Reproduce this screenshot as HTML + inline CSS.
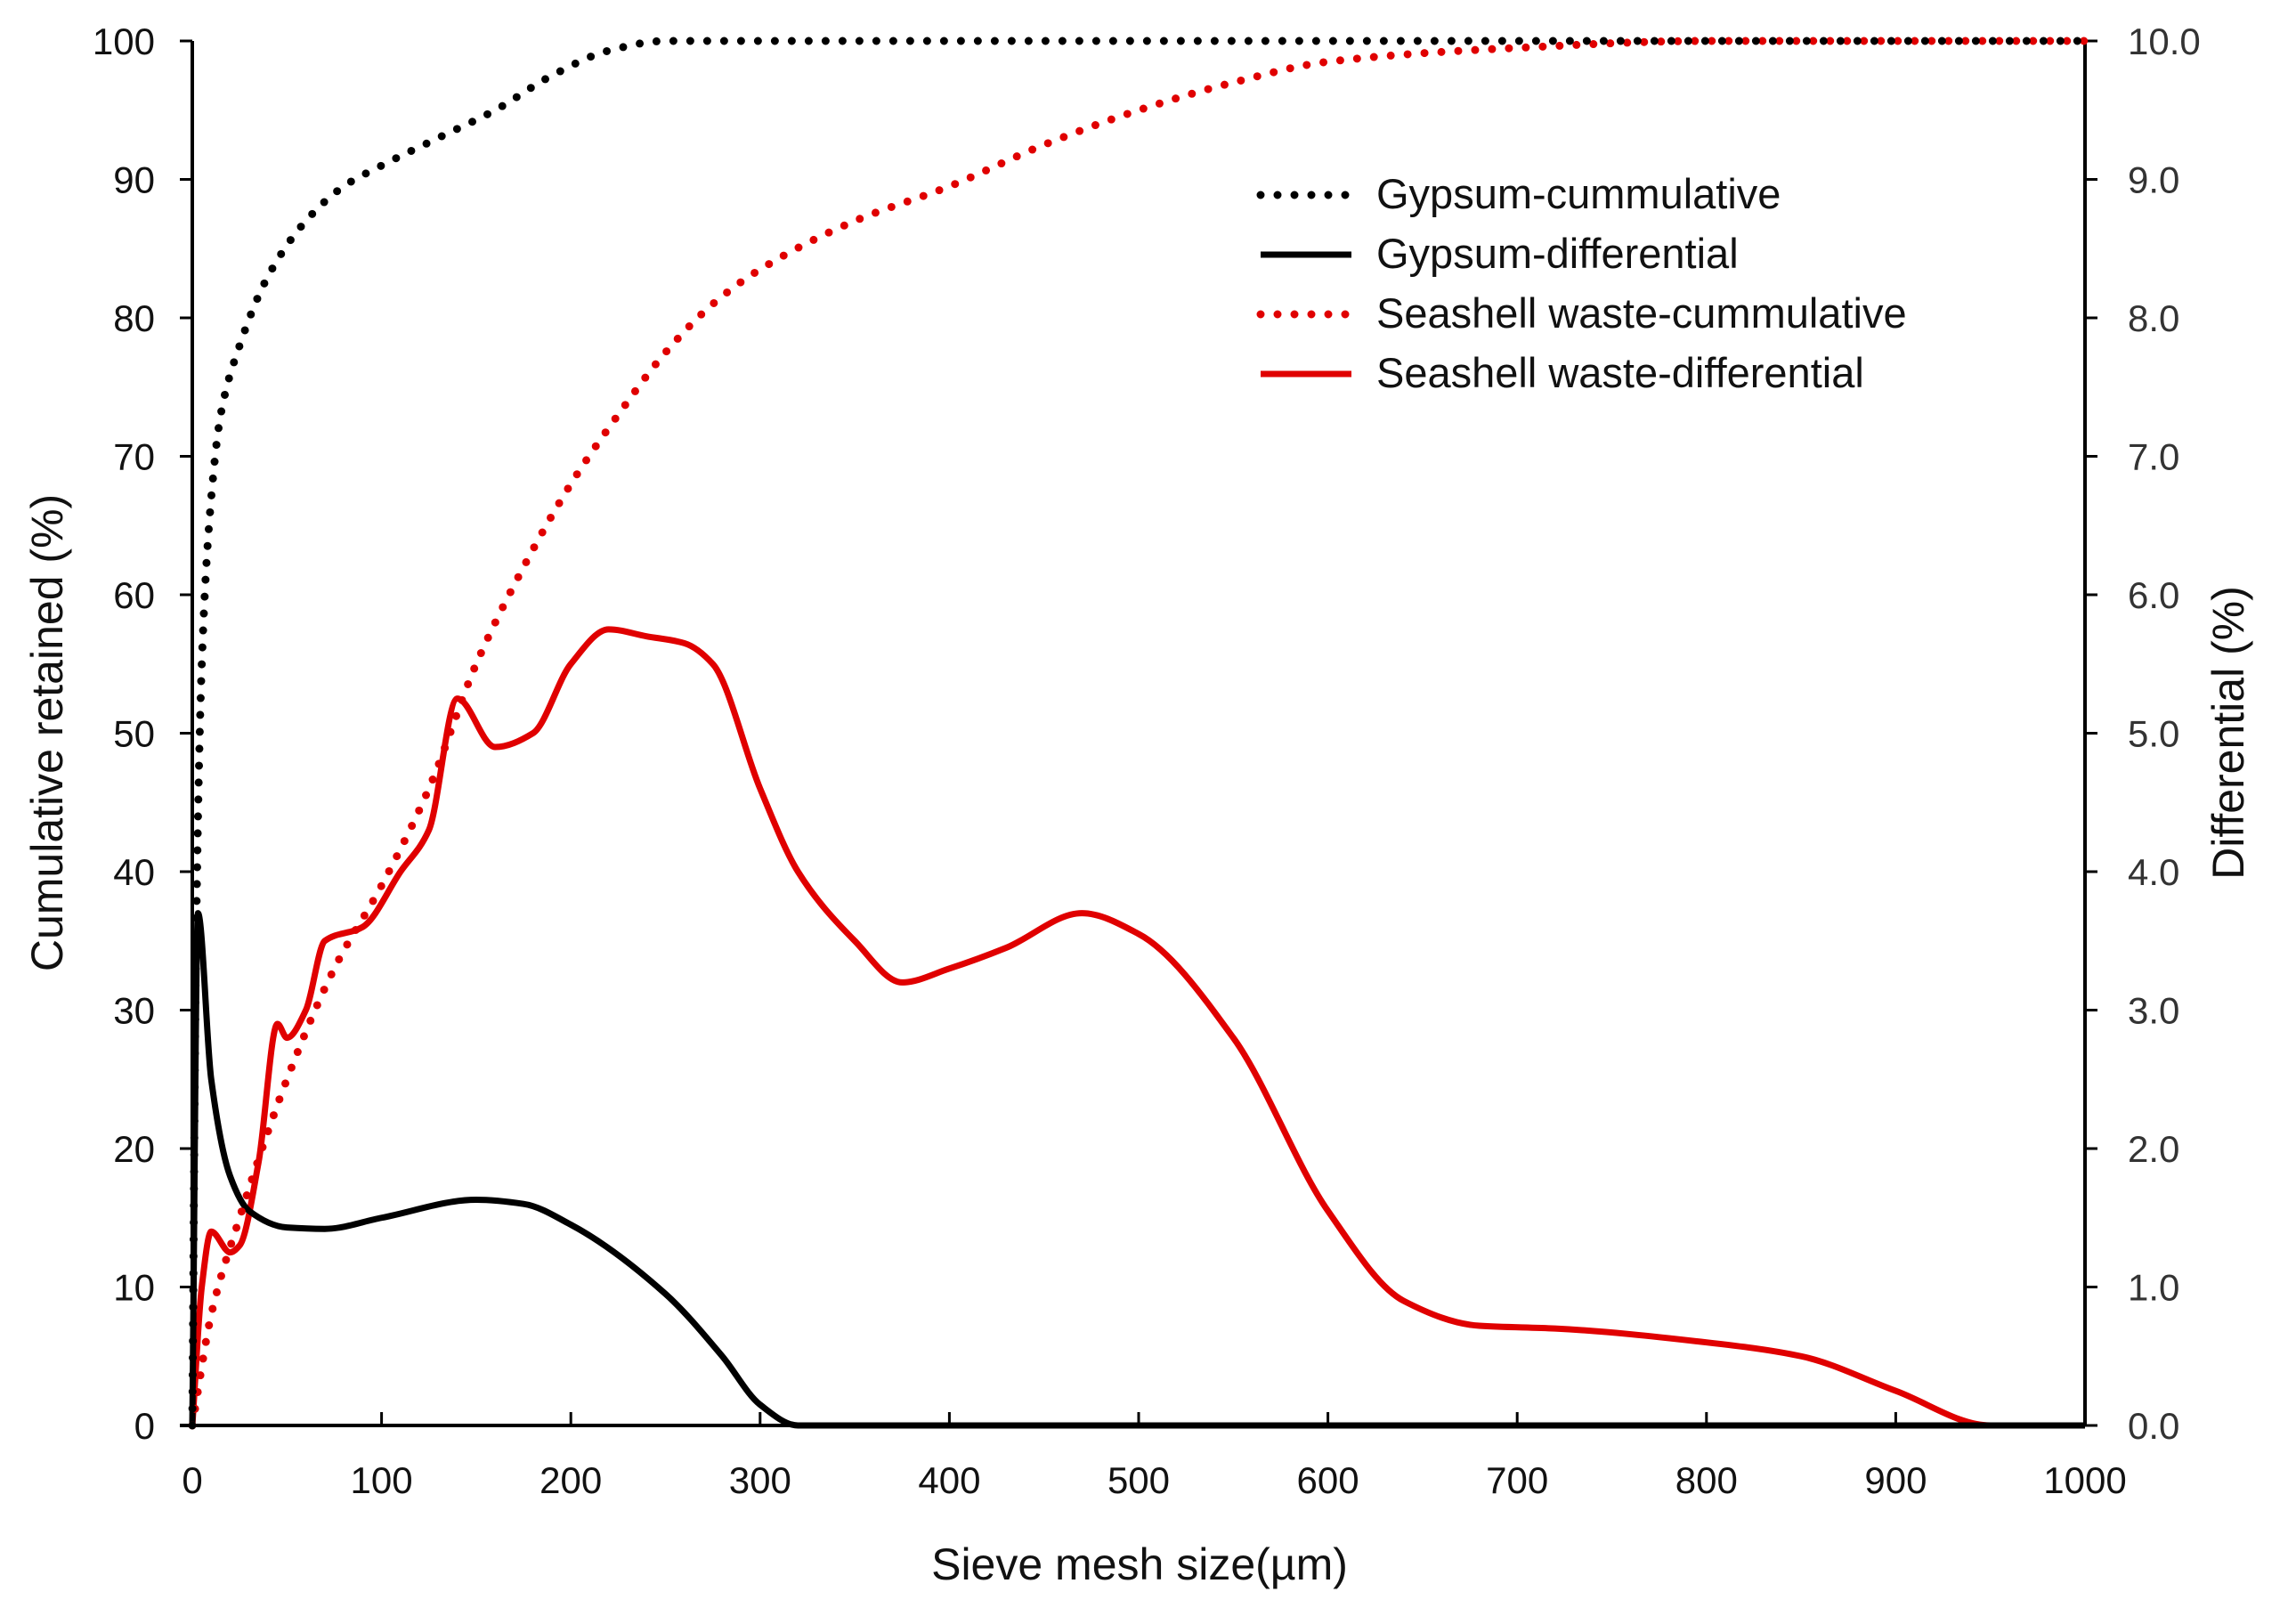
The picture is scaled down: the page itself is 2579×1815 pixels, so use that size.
<!DOCTYPE html>
<html><head><meta charset="utf-8"><style>
body{margin:0;background:#fff}
svg{display:block;font-family:"Liberation Sans",sans-serif}
</style></head><body>
<svg id="chart" width="2579" height="1815" viewBox="0 0 2579 1815">
<g id="axes"></g><g id="series"></g><g id="legend"></g>
</svg>
<script>
const gypCumX=[0,2,5,10,15,25,40,60,80,100,130,160,190,220,250,1000];
const gypCumY=[0,35,55,67,73,78,83,87,89.5,91,93,95,97.5,99.3,100,100];
const seaCumX=[0,10,25,50,75,100,125,150,175,200,225,250,275,300,350,400,450,500,550,600,700,800,1000];
const seaCumY=[0,8,15,25,33,39,46,55,62,68,73,77.5,81,83.5,87,89.5,92.5,95,97,98.5,99.5,100,100];
const gypDifX=[0,3,10,20,30,50,70,100,150,175,200,250,280,300,320,1000];
const gypDifY=[0,3.7,2.5,1.8,1.55,1.43,1.42,1.5,1.63,1.6,1.45,0.95,0.5,0.15,0,0];
const seaDifX=[0,5,10,20,25,35,45,50,60,70,90,110,125,140,160,180,200,220,240,260,275,300,320,350,375,400,430,470,500,550,600,640,680,720,800,850,900,950,1000];
const seaDifY=[0,1.0,1.4,1.25,1.3,1.9,2.9,2.8,3.0,3.5,3.6,4.0,4.3,5.25,4.9,5.0,5.5,5.75,5.7,5.65,5.5,4.6,4.0,3.5,3.2,3.3,3.45,3.7,3.55,2.8,1.55,0.9,0.72,0.7,0.6,0.5,0.25,0,0];
const xTicks=[0,100,200,300,400,500,600,700,800,900,1000];
const yTicks=[0,10,20,30,40,50,60,70,80,90,100];
const y2Ticks=["0.0","1.0","2.0","3.0","4.0","5.0","6.0","7.0","8.0","9.0","10.0"];
const X0=216,X1=2342,YT=46,YB=1601;
const sx=v=>X0+(X1-X0)*v/1000, sy=v=>YB-(YB-YT)*v/100, sy2=v=>YB-(YB-YT)*v/10;
const NS="http://www.w3.org/2000/svg";
function mk(t,a,p){const e=document.createElementNS(NS,t);for(const k in a)e.setAttribute(k,a[k]);p.appendChild(e);return e;}
const ax=document.getElementById('axes');
let e;
e=mk('line',{x1:X0,y1:YT,x2:X0,y2:YB,stroke:'#000','stroke-width':4},ax);


e=mk('line',{x1:X1,y1:YT,x2:X1,y2:YB,stroke:'#000','stroke-width':4},ax);


e=mk('line',{x1:X0-14,y1:YB,x2:X1,y2:YB,stroke:'#000','stroke-width':4},ax);


xTicks.forEach(v=>{mk('line',{x1:sx(v),y1:YB,x2:sx(v),y2:YB-15,stroke:'#000','stroke-width':3},ax);
 e=mk('text',{x:sx(v),y:YB+76,'font-size':42,'text-anchor':'middle',fill:'#111'},ax);e.textContent=v;
 
 });
yTicks.forEach((v,i)=>{mk('line',{x1:X0-14,y1:sy(v),x2:X0,y2:sy(v),stroke:'#000','stroke-width':3},ax);
 e=mk('text',{x:X0-42,y:sy(v)+15,'font-size':42,'text-anchor':'end',fill:'#111'},ax);e.textContent=v;
 
 
 mk('line',{x1:X1,y1:sy(v),x2:X1+14,y2:sy(v),stroke:'#000','stroke-width':3},ax);
 e=mk('text',{x:X1+48,y:sy(v)+15,'font-size':42,'text-anchor':'start',fill:'#333'},ax);e.textContent=y2Ticks[i];
 
 });
e=mk('text',{x:1280,y:1774,'font-size':50,'text-anchor':'middle',fill:'#111'},ax);e.textContent='Sieve mesh size(µm)';


e=mk('text',{x:0,y:0,'font-size':50,'text-anchor':'middle',fill:'#111',transform:'translate(70,823) rotate(-90)'},ax);e.textContent='Cumulative retained (%)';


e=mk('text',{x:0,y:0,'font-size':50,'text-anchor':'middle',fill:'#111',transform:'translate(2520,823) rotate(-90)'},ax);e.textContent='Differential (%)';


function path(xs,ys,fy){
 const X=xs.map(sx),Y=ys.map(fy),n=X.length;
 const d=[],m=new Array(n);
 for(let i=0;i<n-1;i++)d.push((Y[i+1]-Y[i])/(X[i+1]-X[i]));
 m[0]=d[0];m[n-1]=d[n-2];
 for(let i=1;i<n-1;i++){ if(d[i-1]*d[i]<=0)m[i]=0; else { const h0=X[i]-X[i-1],h1=X[i+1]-X[i],w1=2*h1+h0,w2=h1+2*h0; m[i]=(w1+w2)/(w1/d[i-1]+w2/d[i]); } }
 let s='M'+X[0]+','+Y[0];
 for(let i=0;i<n-1;i++){const h=(X[i+1]-X[i])/3;
  s+=' C'+(X[i]+h)+','+(Y[i]+m[i]*h)+' '+(X[i+1]-h)+','+(Y[i+1]-m[i+1]*h)+' '+X[i+1]+','+Y[i+1];}
 return s;}
const sr=document.getElementById('series');
e=mk('path',{d:path(seaDifX,seaDifY,sy2),fill:'none',stroke:'#e00000','stroke-width':7},sr);


e=mk('path',{d:path(gypDifX,gypDifY,sy2),fill:'none',stroke:'#000','stroke-width':7},sr);


e=mk('path',{d:path(seaCumX,seaCumY,sy),fill:'none',stroke:'#e00000','stroke-width':9,'stroke-dasharray':'0 19','stroke-linecap':'round'},sr);


e=mk('path',{d:path(gypCumX,gypCumY,sy),fill:'none',stroke:'#000','stroke-width':9,'stroke-dasharray':'0 19','stroke-linecap':'round'},sr);


const lg=document.getElementById('legend');
const labs=['Gypsum-cummulative','Gypsum-differential','Seashell waste-cummulative','Seashell waste-differential'];
const cols=['#000','#000','#e00000','#e00000'];
labs.forEach((t,i)=>{const y=219+i*67;
 const a={x1:1416,y1:y,x2:1518,y2:y,stroke:cols[i],'stroke-width':i%2?7:9};
 if(i%2==0){a['stroke-dasharray']='0 19';a['stroke-linecap']='round';}
 mk('line',a,lg);
 e=mk('text',{x:1546,y:y+15,'font-size':47,fill:'#111'},lg);e.textContent=t;
 
 });
</script>
</body></html>
